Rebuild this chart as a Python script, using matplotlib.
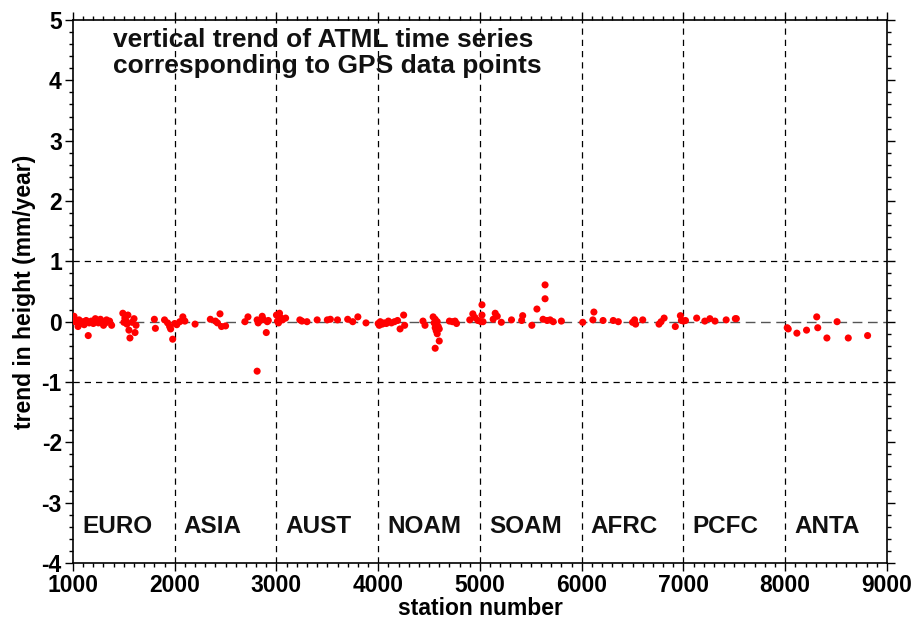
import numpy as np
import matplotlib.pyplot as plt
from matplotlib.ticker import MultipleLocator

plt.rcParams['font.family'] = ['Liberation Sans', 'DejaVu Sans']
plt.rcParams['font.weight'] = 'bold'
plt.rcParams['axes.unicode_minus'] = False

# station number / vertical trend (mm/year)
station = [1010, 1020, 1050, 1060, 1080, 1100, 1110, 1130, 1150, 1160, 1180, 1200,
           1220, 1240, 1250, 1270, 1290, 1300, 1320, 1330, 1360, 1380,
           1490, 1500, 1510, 1520, 1530, 1540, 1550, 1560, 1580, 1600, 1610, 1620,
           1800, 1810, 1900, 1930, 1950, 1960, 1980, 2000, 2020, 2050, 2080, 2100,
           2200, 2350, 2400, 2420, 2445, 2460, 2500,
           2690, 2720, 2810, 2820, 2840, 2860, 2870, 2900, 2910, 2920, 2810,
           3000, 3010, 3020, 3030, 3040, 3060, 3090, 3230, 3250, 3300, 3400,
           3500, 3530, 3600, 3700, 3750, 3800, 3880,
           4000, 4010, 4020, 4040, 4060, 4080, 4100, 4130, 4160, 4190, 4215, 4250, 4260,
           4440, 4460, 4540, 4550, 4560, 4560, 4570, 4570, 4580, 4580, 4590, 4600, 4600, 4560,
           4700, 4730, 4755, 4770, 4900, 4930, 4950, 4980, 5010, 5020, 5020,
           5030, 5130, 5150, 5170, 5210, 5310, 5410, 5420, 5510, 5560, 5640, 5640,
           5620, 5660, 5690, 5720, 5800,
           6010, 6110, 6120, 6210, 6310, 6360, 6500, 6530, 6520, 6600, 6760, 6810, 6780,
           6920, 6970, 6980, 7000, 7020, 7130, 7210, 7260, 7310, 7420, 7510, 7520,
           8020, 8030, 8115, 8210, 8310, 8320, 8410, 8510, 8620, 8810]
trend = [0.09, 0.0, -0.08, 0.03, -0.03, 0.0, -0.05, 0.02, -0.23, -0.02, 0.01, -0.03,
         0.05, 0.01, -0.02, 0.04, 0.0, -0.06, -0.02, 0.03, 0.01, -0.06,
         0.14, -0.01, 0.06, 0.02, -0.04, 0.11, -0.14, -0.27, -0.01, 0.05, -0.18, -0.06,
         0.04, -0.11, 0.03, -0.02, -0.08, -0.12, -0.29, -0.03, -0.05, 0.0, 0.08, 0.01,
         -0.04, 0.04, 0.01, -0.02, 0.13, -0.08, -0.07,
         0.0, 0.08, 0.03, -0.02, 0.02, 0.09, 0.04, -0.18, 0.0, 0.02, -0.82,
         0.11, 0.01, -0.02, 0.14, 0.07, 0.03, 0.06, 0.03, 0.01, 0.0, 0.03,
         0.03, 0.04, 0.03, 0.04, 0.0, 0.08, -0.02,
         -0.03, -0.06, 0.0, -0.04, -0.02, -0.03, 0.01, -0.02, 0.0, 0.02, -0.12, 0.11, -0.06,
         0.01, -0.06, 0.08, -0.02, -0.1, 0.04, -0.15, -0.05, -0.2, 0.0, -0.08, -0.32, -0.12, -0.44,
         0.01, 0.0, 0.01, -0.03, 0.03, 0.13, 0.07, 0.02, 0.0, 0.28, 0.11,
         0.0, 0.04, 0.14, 0.09, -0.01, 0.03, 0.02, 0.1, -0.06, 0.21, 0.61, 0.38,
         0.04, 0.02, 0.03, 0.0, 0.01,
         -0.01, 0.03, 0.16, 0.02, 0.02, 0.0, -0.01, -0.04, 0.03, 0.03, -0.04, 0.06, 0.0,
         -0.08, 0.1, 0.02, 0.01, 0.02, 0.06, 0.01, 0.05, 0.01, 0.03, 0.05, 0.05,
         -0.1, -0.12, -0.19, -0.14, 0.08, -0.1, -0.27, 0.0, -0.27, -0.23]

regions = ['EURO', 'ASIA', 'AUST', 'NOAM', 'SOAM', 'AFRC', 'PCFC', 'ANTA']
region_start = [1000, 2000, 3000, 4000, 5000, 6000, 7000, 8000]

fig = plt.figure(figsize=(9.19, 6.26), dpi=100)
ax = fig.add_axes([0.0794, 0.1006, 0.8857, 0.8674])

for x0 in region_start[1:]:
    ax.axvline(x0, color='black', lw=0.9, dashes=(5, 4), zorder=1)
ax.axhline(1, color='black', lw=0.9, dashes=(5, 4), zorder=1)
ax.axhline(-1, color='black', lw=0.9, dashes=(5, 4), zorder=1)
ax.axhline(0, color='#555555', lw=1.0, dashes=(7, 4), zorder=1)

ax.scatter(station, trend, s=26, color='red', edgecolors='none', zorder=3)

for name, x0 in zip(regions, region_start):
    ax.text(x0 + 90, -3.4, name, fontsize=17.5, fontweight='bold', va='center', ha='left',
            color='#111111')

ax.text(0.049, 0.985, 'vertical trend of ATML time series\ncorresponding to GPS data points',
        transform=ax.transAxes, fontsize=19, fontweight='bold', va='top', ha='left',
        linespacing=1.12, color='#111111')

ax.set_xlim(1000, 9000)
ax.set_ylim(-4, 5)
ax.xaxis.set_major_locator(MultipleLocator(1000))
ax.xaxis.set_minor_locator(MultipleLocator(100))
ax.yaxis.set_major_locator(MultipleLocator(1))
ax.yaxis.set_minor_locator(MultipleLocator(0.2))
ax.tick_params(which='both', direction='out', top=True, right=True, width=1.0)
ax.tick_params(which='major', length=6, labelsize=16.5, pad=2)
ax.tick_params(which='minor', length=3)
for lab in ax.get_xticklabels() + ax.get_yticklabels():
    lab.set_fontweight('bold')
for sp in ax.spines.values():
    sp.set_linewidth(1.2)

ax.set_xlabel('station number', fontsize=16.5, fontweight='bold', labelpad=0)
ax.set_ylabel('trend in height (mm/year)', fontsize=16.5, fontweight='bold', labelpad=4)

fig.savefig('out.png', dpi=100)
